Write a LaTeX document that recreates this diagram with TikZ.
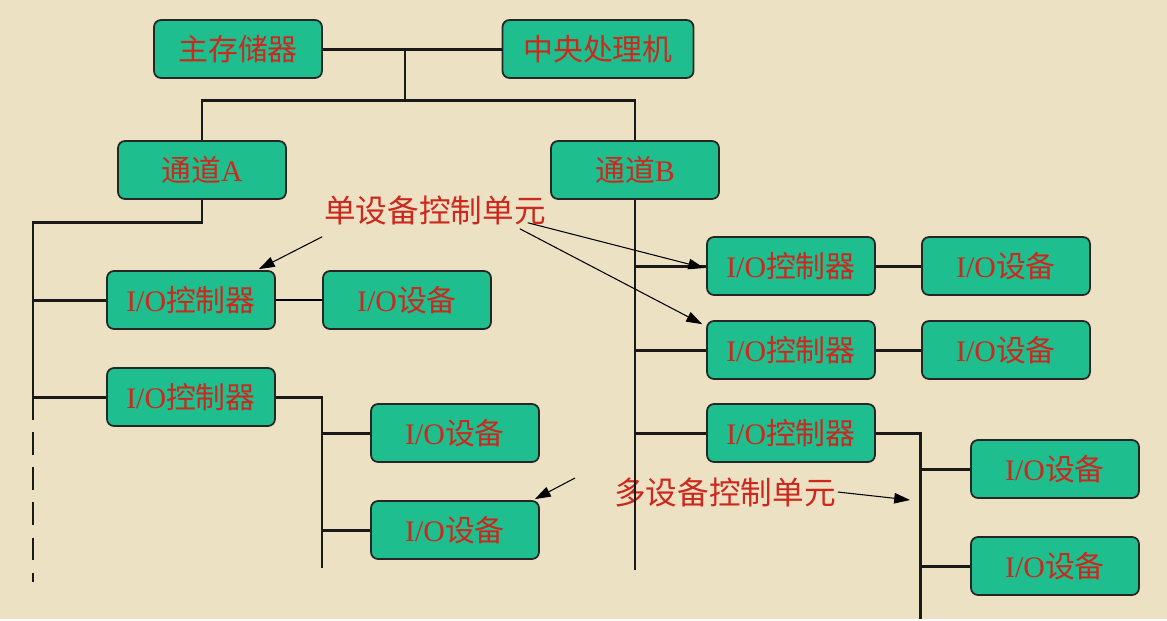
\documentclass[tikz,border=0pt]{standalone}
\usepackage{fontspec}
\setmainfont{Liberation Serif}
\newfontfamily\cjk{Noto Sans CJK SC}
\usetikzlibrary{arrows.meta,calc}
\definecolor{paper}{RGB}{236,225,194}
\definecolor{boxgreen}{RGB}{30,190,142}
\definecolor{txtred}{RGB}{205,40,30}
\newcommand{\IO}{{\rmfamily I/O}}
\begin{document}
\begin{tikzpicture}[x=0.02cm,y=-0.02cm,
  box/.style={draw=black!85,line width=1pt,fill=boxgreen,rounded corners=4pt,
    minimum width=3.36cm,minimum height=1.16cm,text=txtred,font=\fontsize{17}{19}\selectfont\cjk},
  note/.style={text=txtred,inner sep=1pt,font=\fontsize{18}{20}\selectfont\cjk},
  bus/.style={line width=1.7pt,black!90},
  ptr/.style={line width=0.6pt,-{Triangle[length=9pt,width=6pt]}}]
\fill[paper](0,0)rectangle(1167,619);
\node[box] at(238,49)(mem){主存储器};
\node[box,minimum width=3.82cm] at(598,49)(cpu){中央处理机};
\node[box] at(202,170)(chA){通道{\rmfamily A}};
\node[box] at(635,170)(chB){通道{\rmfamily B}};
\node[box] at(191,300)(ctlA1){\IO 控制器};
\node[box] at(407,300)(devA1){\IO 设备};
\node[box] at(191,397)(ctlA2){\IO 控制器};
\node[box] at(455,433)(devA2){\IO 设备};
\node[box] at(455,530)(devA3){\IO 设备};
\node[box] at(791,266)(ctlB1){\IO 控制器};
\node[box] at(1006,266)(devB1){\IO 设备};
\node[box] at(791,350)(ctlB2){\IO 控制器};
\node[box] at(1006,350)(devB2){\IO 设备};
\node[box] at(791,433)(ctlB3){\IO 控制器};
\node[box] at(1055,469)(devB3){\IO 设备};
\node[box] at(1055,566)(devB4){\IO 设备};
\node[note] at(435,210)(single){单设备控制单元};
\node[note] at(725,492)(multi){多设备控制单元};
\coordinate(hub) at(405,100);
\coordinate(busA) at(33,222);
\coordinate(endA) at(33,582);
\coordinate(subA) at(322,568);
\coordinate(busB) at(635,570);
\coordinate(subB) at(920,619);
\coordinate(mtip) at(910,500);
\coordinate(pfrom) at(575,478);
% system bus and channels
\draw[bus](mem.east)--(cpu.west);
\draw[bus](hub|-mem)--(hub);
\draw[bus](chA.north)|-(hub)-|(chB.north);
% channel A
\draw[bus](chA.south)|-(busA)--(busA|-ctlA2);
\draw[bus,dash pattern=on 13pt off 7pt](busA|-ctlA2)--(endA);
\draw[bus](busA|-ctlA1)--(ctlA1.west) (busA|-ctlA2)--(ctlA2.west);
\draw[line width=0.7pt](ctlA1.east)--(devA1.west);
\draw[bus](ctlA2.east)-|(subA);
\draw[bus](subA|-devA2)--(devA2.west) (subA|-devA3)--(devA3.west);
% channel B
\draw[bus](chB.south)--(busB);
\draw[bus](busB|-ctlB1)--(ctlB1.west) (busB|-ctlB2)--(ctlB2.west) (busB|-ctlB3)--(ctlB3.west);
\draw[bus](ctlB1.east)--(devB1.west) (ctlB2.east)--(devB2.west);
\draw[bus](ctlB3.east)-|(subB);
\draw[bus](subB|-devB3)--(devB3.west) (subB|-devB4)--(devB4.west);
% pointers
\draw[ptr]($(single.south west)+(0,10)$)--($(ctlA1.north east)+(-17,-1)$);
\draw[ptr]($(single.south east)+(-20,-4)$)--($(ctlB1.west)+(-2,2)$);
\draw[ptr]($(single.south east)+(-28,2)$)--($(ctlB2.north west)+(-4,4)$);
\draw[ptr](multi.east)--(mtip);
\draw[ptr](pfrom)--($(devA3.north east)+(-5,-1)$);
\end{tikzpicture}
\end{document}
